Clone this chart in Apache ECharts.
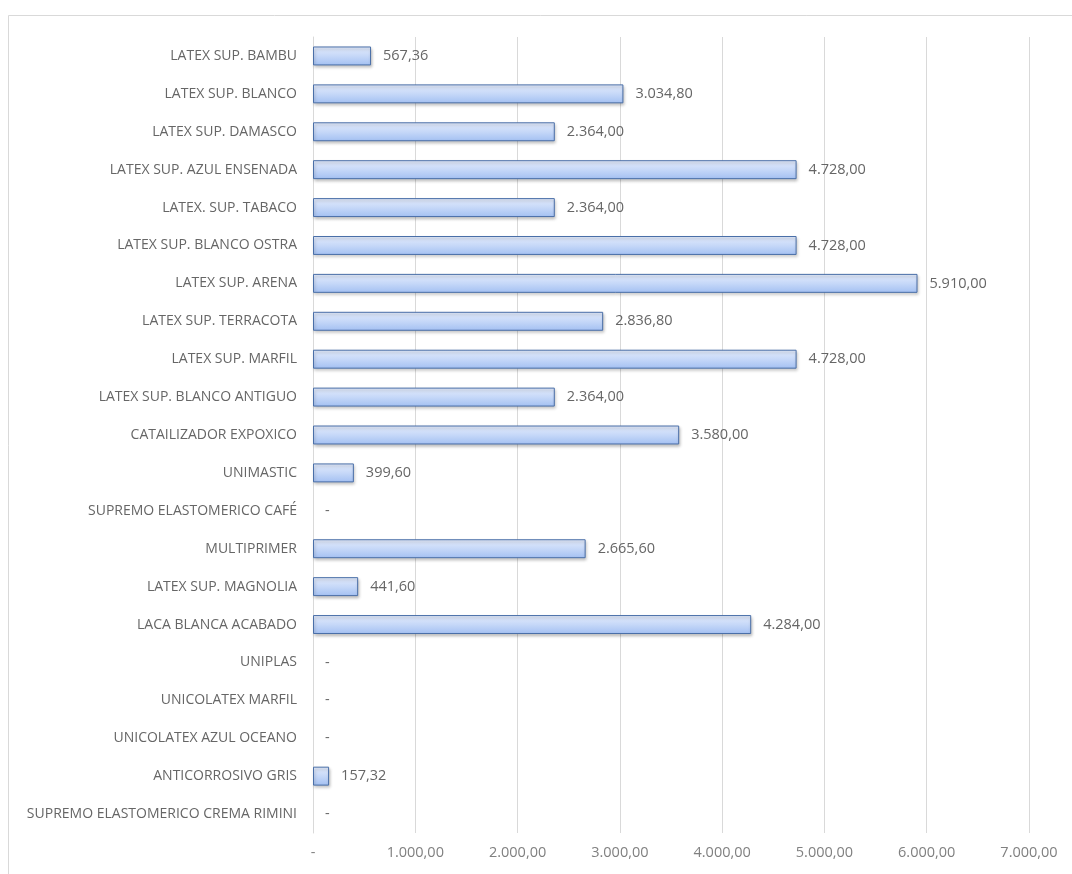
<!DOCTYPE html>
<html><head><meta charset="utf-8">
<script src="https://cdn.jsdelivr.net/npm/echarts@6/dist/echarts.min.js"></script>
<style>html,body{margin:0;padding:0;background:#fff}#c{width:1072px;height:874px}</style>
</head><body><div id="c"></div>
<script>
const categories = [
  "LATEX SUP. BAMBU","LATEX SUP. BLANCO","LATEX SUP. DAMASCO","LATEX SUP. AZUL ENSENADA",
  "LATEX. SUP. TABACO","LATEX SUP. BLANCO OSTRA","LATEX SUP. ARENA","LATEX SUP. TERRACOTA",
  "LATEX SUP. MARFIL","LATEX SUP. BLANCO ANTIGUO","CATAILIZADOR EXPOXICO","UNIMASTIC",
  "SUPREMO ELASTOMERICO CAFÉ","MULTIPRIMER","LATEX SUP. MAGNOLIA","LACA BLANCA ACABADO",
  "UNIPLAS","UNICOLATEX MARFIL","UNICOLATEX AZUL OCEANO","ANTICORROSIVO GRIS",
  "SUPREMO ELASTOMERICO CREMA RIMINI"
];
const values = [567.36,3034.80,2364,4728,2364,4728,5910,2836.80,4728,2364,3580,399.60,0,2665.60,441.60,4284,0,0,0,157.32,0];
const xTicks = [0,1000,2000,3000,4000,5000,6000,7000];

function fmt(v){
  if (v === 0) return "-";
  const parts = v.toFixed(2).split(".");
  const int = parts[0].replace(/\B(?=(\d{3})+(?!\d))/g, ".");
  return int + "," + parts[1];
}
const chart = echarts.init(document.getElementById('c'));
const font = "'Open Sans', 'Noto Sans', sans-serif";
const barData = values.map(v => v === 0
  ? {value:v, itemStyle:{color:'rgba(0,0,0,0)',borderWidth:0,shadowBlur:0,shadowColor:'rgba(0,0,0,0)'}}
  : v);
chart.setOption({
  animation:false,
  backgroundColor:'#fff',
  graphic:[{type:'rect',shape:{x:8.5,y:15.5,width:1100,height:900},style:{fill:'none',stroke:'#d9d9d9',lineWidth:1},silent:true}],
  grid:{left:313,right:43,top:37,bottom:41},
  xAxis:{type:'value',min:xTicks[0],max:xTicks[xTicks.length-1],interval:1000,
    axisLine:{show:false},axisTick:{show:false},
    splitLine:{show:true,lineStyle:{color:'#d9d9d9',width:1}},
    axisLabel:{formatter:v=>fmt(v),color:'#808080',fontFamily:font,fontSize:14.5,margin:12}},
  yAxis:{type:'category',data:categories,inverse:true,
    axisLine:{show:true,lineStyle:{color:'#d9d9d9'}},axisTick:{show:false},
    axisLabel:{color:'#666666',fontFamily:font,fontSize:14,margin:16}},
  series:[{type:'bar',data:barData,barWidth:'50%',
    itemStyle:{color:new echarts.graphic.LinearGradient(0,0,0,1,[{offset:0,color:'#e4ecfc'},{offset:0.5,color:'#c6d8f8'},{offset:1,color:'#a3c0f2'}]),
      borderColor:'#4a6fa8',borderWidth:1,shadowColor:'rgba(0,0,0,0.25)',shadowBlur:3,shadowOffsetX:1,shadowOffsetY:2},
    label:{show:true,position:'right',distance:12,formatter:p=>fmt(p.value),color:'#666666',fontFamily:font,fontSize:14.5}}]
});
</script></body></html>
